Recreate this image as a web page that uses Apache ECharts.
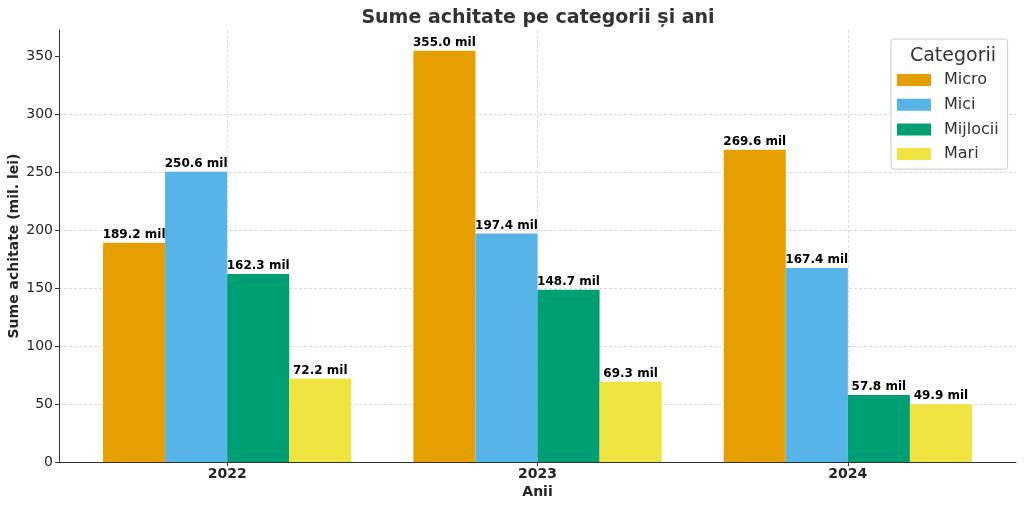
<!DOCTYPE html>
<html>
<head>
<meta charset="utf-8">
<script src="https://cdn.jsdelivr.net/npm/echarts@6/dist/echarts.min.js"></script>
<style>html,body{margin:0;padding:0;background:#fff}#c{width:1024px;height:508px}</style>
</head>
<body>
<div id="c"></div>
<script>
const years = ['2022', '2023', '2024'];
const seriesNames = ['Micro', 'Mici', 'Mijlocii', 'Mari'];
const micro = [189.2, 355.0, 269.6];
const mici = [250.6, 197.4, 167.4];
const mijlocii = [162.3, 148.7, 57.8];
const mari = [72.2, 69.3, 49.9];
const colors = ['#E69F00', '#56B4E9', '#009E73', '#F0E442'];
const yTicks = [0, 50, 100, 150, 200, 250, 300, 350];

const values = [micro, mici, mijlocii, mari];
const FONT = 'DejaVu Sans';
const chart = echarts.init(document.getElementById('c'));
const yMax = 373;
chart.setOption({
  animation: false,
  textStyle: { fontFamily: FONT },
  title: [
    { text: 'Sume achitate pe categorii și ani', left: 533, top: 4, textAlign: 'center',
      textStyle: { fontFamily: FONT, fontSize: 19, fontWeight: 'bold', color: '#333' } },
    { text: 'Categorii', left: 948, top: 42, textAlign: 'center', z: 10,
      textStyle: { fontFamily: FONT, fontSize: 19, fontWeight: 'normal', color: '#333' } }
  ],
  legend: {
    data: seriesNames,
    orient: 'vertical',
    left: 891, top: 39,
    padding: [33, 9, 7, 6],
    itemWidth: 34, itemHeight: 12, itemGap: 8.7,
    icon: 'rect',
    backgroundColor: '#fff',
    borderColor: '#ccc', borderWidth: 1, borderRadius: 3,
    textStyle: { fontFamily: FONT, fontSize: 16, color: '#333', lineHeight: 15, padding: [0, 0, 0, 8] }
  },
  grid: [
    { left: 59, right: 8, top: 30, bottom: 46, outerBoundsMode: 'none', containLabel: false },
    { left: 72, right: 21, top: 30, bottom: 46, outerBoundsMode: 'none', containLabel: false }
  ],
  xAxis: [
    { gridIndex: 0, type: 'value', min: 0, max: 1,
      axisLine: { show: true, lineStyle: { color: '#333', width: 1 } },
      axisTick: { show: false }, axisLabel: { show: false }, splitLine: { show: false } },
    { gridIndex: 1, type: 'category', data: years,
      name: 'Anii', nameLocation: 'middle', nameGap: 23, nameMoveOverlap: false,
      nameTextStyle: { fontFamily: FONT, fontSize: 14, fontWeight: 'bold', color: '#262626' },
      axisLine: { show: false },
      axisTick: { show: true, alignWithLabel: true, length: 4, lineStyle: { color: '#333' } },
      axisLabel: { fontFamily: FONT, fontSize: 14, fontWeight: 'bold', color: '#262626', margin: 5 },
      splitLine: { show: true, alignWithLabel: true, lineStyle: { color: '#d0d0d0', type: [3, 2], width: 0.8 } } }
  ],
  yAxis: [
    { gridIndex: 0, type: 'value', min: 0, max: yMax, interval: 50,
      name: 'Sume achitate (mil. lei)', nameLocation: 'middle', nameGap: 38, nameRotate: 90,
      nameMoveOverlap: false,
      nameTextStyle: { fontFamily: FONT, fontSize: 14, fontWeight: 'bold', color: '#262626' },
      axisLine: { show: true, lineStyle: { color: '#333', width: 1 } },
      axisTick: { show: true, length: 4, lineStyle: { color: '#333' }, customValues: yTicks },
      axisLabel: { fontFamily: FONT, fontSize: 14, color: '#262626', margin: 6,
        customValues: yTicks },
      splitLine: { show: true, showMaxLine: false, showMinLine: false,
        lineStyle: { color: '#d0d0d0', type: [3, 2], width: 0.8 } } },
    { gridIndex: 1, type: 'value', min: 0, max: yMax, interval: 50, show: false,
      splitLine: { show: false } }
  ],
  series: seriesNames.map((n, i) => ({
    name: n, type: 'bar', xAxisIndex: 1, yAxisIndex: 1,
    data: values[i],
    barGap: '0%', barCategoryGap: '20%',
    itemStyle: { color: colors[i] },
    label: { show: true, position: 'top', distance: 2,
      formatter: p => p.value.toFixed(1) + ' mil',
      fontFamily: FONT, fontSize: 12, fontWeight: 'bold', color: '#000' }
  }))
});
</script>
</body>
</html>
